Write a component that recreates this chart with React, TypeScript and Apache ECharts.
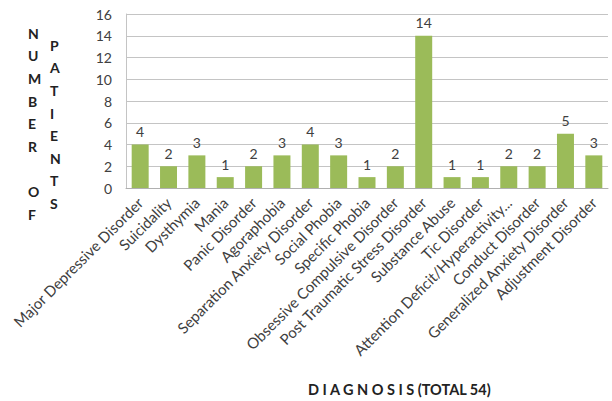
import React, { useEffect, useRef } from "react";
import * as echarts from "echarts";

const categories: string[] = [
  "Major Depressive Disorder",
  "Suicidality",
  "Dysthymia",
  "Mania",
  "Panic Disorder",
  "Agoraphobia",
  "Separation Anxiety Disorder",
  "Social Phobia",
  "Specific Phobia",
  "Obsessive Compulsive Disorder",
  "Post Traumatic Stress Disorder",
  "Substance Abuse",
  "Tic Disorder",
  "Attention Deficit/Hyperactivity...",
  "Conduct Disorder",
  "Generalized Anxiety Disorder",
  "Adjustment Disorder",
];

const patients: number[] = [4, 2, 3, 1, 2, 3, 4, 3, 1, 2, 14, 1, 1, 2, 2, 5, 3];

const yTicks = { min: 0, max: 16, interval: 2 };

const yNameLeft = ["N", "U", "M", "B", "E", "R", "", "O", "F"];
const yNameRight = ["P", "A", "T", "I", "E", "N", "T", "S"];
const xTitle = "D I A G N O S I S (TOTAL 54)";

const FONT = "Lato, 'Liberation Sans', sans-serif";

export default function App() {
  const ref = useRef<HTMLDivElement>(null);

  useEffect(() => {
    document.body.style.margin = "0";
    if (!ref.current) return;
    const chart = echarts.init(ref.current, undefined, { renderer: "svg" });
    chart.setOption({
      animation: false,
      textStyle: { fontFamily: FONT },
      grid: { left: 126, right: 4, top: 14, bottom: 213 },
      xAxis: {
        type: "category",
        data: categories,
        axisLine: { show: true, lineStyle: { color: "#b0b0b0", width: 1 } },
        axisTick: { show: false },
        axisLabel: {
          interval: 0,
          rotate: 45,
          fontSize: 15,
          color: "#404040",
          fontFamily: FONT,
          margin: 12,
        },
      },
      yAxis: {
        type: "value",
        min: yTicks.min,
        max: yTicks.max,
        interval: yTicks.interval,
        axisLine: { show: true, lineStyle: { color: "#c4c4c4", width: 1 } },
        axisTick: { show: false },
        splitLine: { show: true, lineStyle: { color: "#c4c4c4", width: 1 } },
        axisLabel: { fontSize: 14, color: "#404040", margin: 14, fontFamily: FONT },
      },
      series: [
        {
          type: "bar",
          data: patients,
          barWidth: 17,
          itemStyle: { color: "#9bbb59" },
          label: {
            show: true,
            position: "top",
            distance: 6,
            fontSize: 14,
            color: "#404040",
            fontFamily: FONT,
          },
        },
      ],
      graphic: [
        {
          type: "text",
          left: 28,
          top: 22,
          style: {
            text: yNameLeft.join("\n"),
            fontSize: 14,
            fontWeight: "bold",
            fontFamily: FONT,
            fill: "#222",
            lineHeight: 22.6,
            align: "center",
            width: 14,
          },
        },
        {
          type: "text",
          left: 50,
          top: 34,
          style: {
            text: yNameRight.join("\n"),
            fontSize: 14,
            fontWeight: "bold",
            fontFamily: FONT,
            fill: "#222",
            lineHeight: 22.6,
            align: "center",
            width: 14,
          },
        },
        {
          type: "text",
          left: 308,
          top: 382,
          style: {
            text: xTitle,
            fontSize: 14.5,
            fontWeight: "bold",
            fontFamily: FONT,
            fill: "#222",
          },
        },
      ],
    });
    return () => chart.dispose();
  }, []);

  return <div ref={ref} style={{ width: 612, height: 401 }} />;
}
